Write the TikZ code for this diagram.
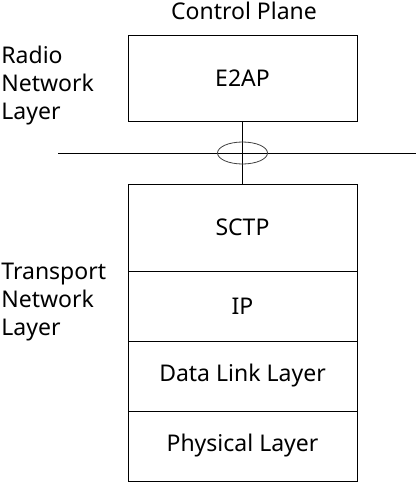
\documentclass[tikz,border=0pt]{standalone}
\usepackage{fontspec}
\setmainfont{Noto Sans}
\usetikzlibrary{positioning,shapes.geometric}

\begin{document}
\begin{tikzpicture}[x=1pt, y=-1pt, node distance=0pt, line width=0.8pt,
    layer/.style={rectangle, draw, minimum width=229pt, inner sep=0pt, outer sep=0pt, font=\fontsize{23}{28}\selectfont},
    side/.style={anchor=north west, align=left, inner sep=0pt, font=\fontsize{23}{28}\selectfont}]
    \useasboundingbox (0,0) rectangle (416,482);
    \node[font=\fontsize{23}{28}\selectfont, anchor=base] (cp) at (244,19) {Control Plane};
    \node[layer, minimum height=86pt] (e2ap) at (242.5,78) {E2AP};
    \node[layer, minimum height=87pt, below=63pt of e2ap] (sctp) {SCTP};
    \node[layer, minimum height=70pt, below=of sctp] (ip) {IP};
    \node[layer, minimum height=70pt, below=of ip] (dll) {Data Link Layer};
    \node[layer, minimum height=70pt, below=of dll] (phy) {Physical Layer};
    \node[side] (rnl) at (1,46) {Radio\\Network\\Layer};
    \node[side] (tnl) at (1,263) {Transport\\Network\\Layer};

    \coordinate (cutL) at (58,153);
    \coordinate (cutR) at (416,153);
    \draw (cutL) -- (cutR);
    \draw (e2ap.south) -- (sctp.north);
    \node[ellipse, draw=black!75, minimum width=50pt, minimum height=22pt, inner sep=0pt] (link) at (e2ap.south |- cutL) {};
\end{tikzpicture}
\end{document}
